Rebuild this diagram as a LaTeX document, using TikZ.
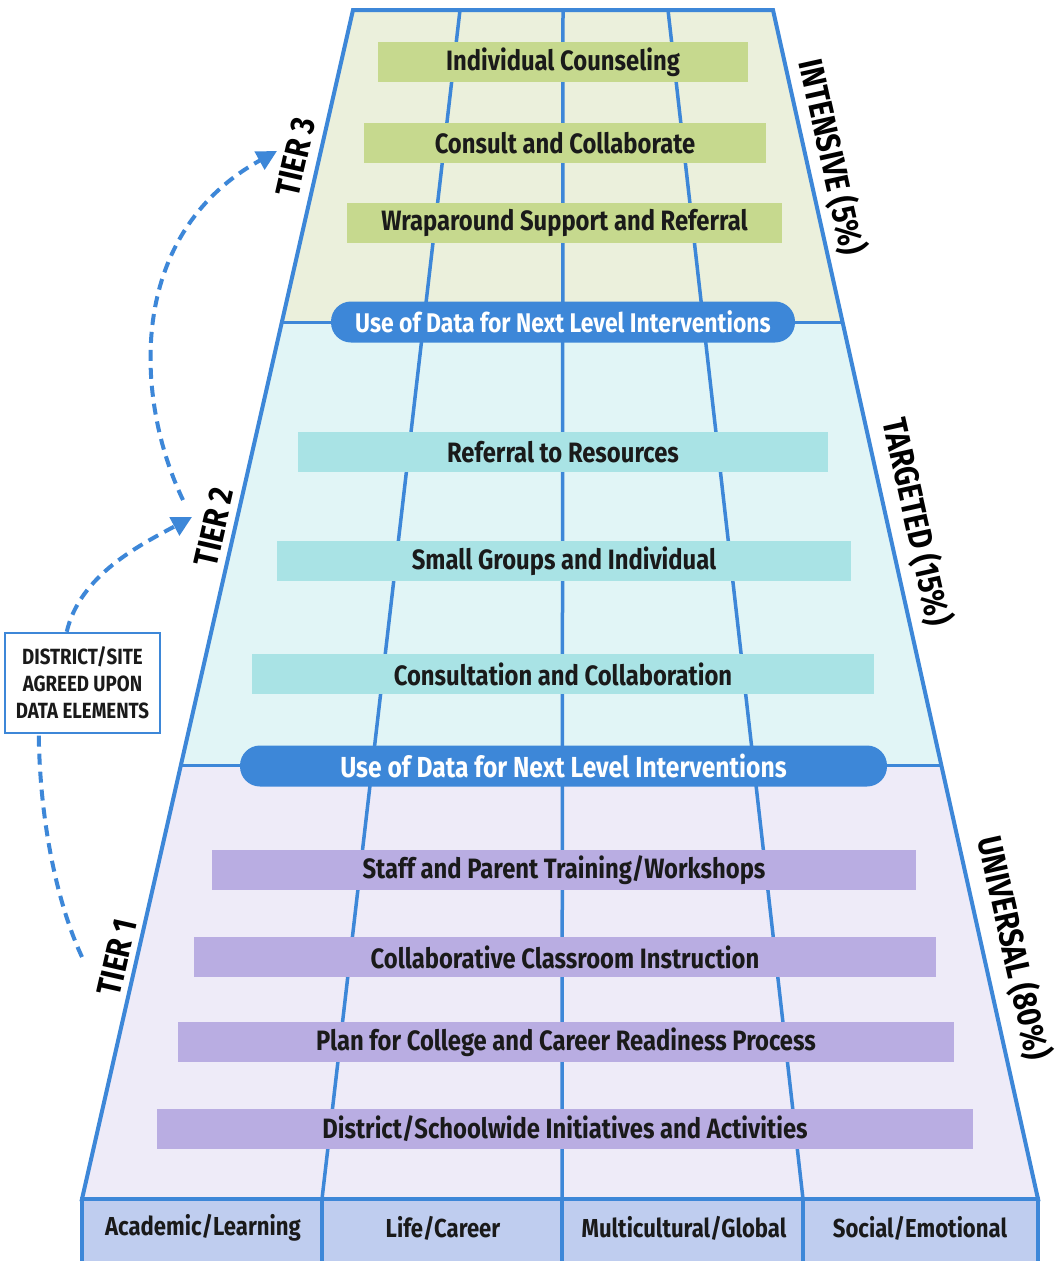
\documentclass[tikz,border=0pt]{standalone}
\usepackage{fontspec}
\setmainfont{Fira Sans}[FakeStretch=0.85]
\usetikzlibrary{calc,arrows.meta}
\definecolor{blu}{HTML}{3D87D8}
\definecolor{tthreebg}{HTML}{EBF0DC}
\definecolor{tthreebox}{HTML}{C6D98E}
\definecolor{ttwobg}{HTML}{E1F5F6}
\definecolor{ttwobox}{HTML}{A9E3E5}
\definecolor{tonebg}{HTML}{EEEBF8}
\definecolor{tonebox}{HTML}{B9ADE2}
\definecolor{basec}{HTML}{BFCDEF}
\definecolor{txt}{HTML}{1A1A1A}
\begin{document}
\begin{tikzpicture}[x=1pt,y=-1pt,
  ln/.style={draw=blu,line width=3.5pt},
  outl/.style={draw=blu,line width=4pt,line join=miter},
  boxbase/.style={rectangle,inner sep=0pt,minimum height=40pt,text=txt,
     font=\bfseries\fontsize{28}{28}\selectfont},
  gbox/.style={boxbase,fill=tthreebox},
  cbox/.style={boxbase,fill=ttwobox},
  pbox/.style={boxbase,fill=tonebox},
  pill/.style={rectangle,rounded corners=20pt,inner sep=0pt,minimum height=41pt,fill=blu,text=white,
     font=\bfseries\fontsize{27}{27}\selectfont},
  cell/.style={inner sep=0pt,text=txt,font=\bfseries\fontsize{26}{26}\selectfont},
  tier/.style={inner sep=0pt,text=black,font=\bfseries\fontsize{34}{34}\selectfont},
  dsh/.style={draw=blu,line width=4pt,dash pattern=on 11pt off 7pt},
  tip/.style={-{Triangle[length=20pt,width=20pt]}},
  databox/.style={draw=blu,line width=2.5pt,fill=white,align=center,minimum width=155pt,minimum height=100pt,
     inner sep=0pt,text=txt,font=\bfseries\fontsize{22}{27}\selectfont}
]
\useasboundingbox (0,0) rectangle (1055,1261);
\fill[white] (0,0) rectangle (1055,1261);
% geometry
\coordinate (TL) at (353,10);
\coordinate (TR) at (773,10);
\coordinate (BL) at (82,1199);
\coordinate (BR) at (1038,1199);
\coordinate (L3) at ($(TL)!0.2624!(BL)$);
\coordinate (R3) at ($(TR)!0.2624!(BR)$);
\coordinate (L2) at ($(TL)!0.6350!(BL)$);
\coordinate (R2) at ($(TR)!0.6350!(BR)$);
% backgrounds
\fill[tthreebg] (TL)--(TR)--(R3)--(L3)--cycle;
\fill[ttwobg] (L3)--(R3)--(R2)--(L2)--cycle;
\fill[tonebg] (L2)--(R2)--(BR)--(BL)--cycle;
% column lines
\draw[ln] (460,10)--(322,1199);
\draw[ln] (563,10)--(562,1199);
\draw[ln] (668,10)--(803,1199);
% tier boundaries
\draw[draw=blu,line width=3pt] (L3)--(R3);
\draw[draw=blu,line width=3pt] (L2)--(R2);
% outline
\draw[outl] (TL)--(TR)--(BR)--(BL)--cycle;
% base
\draw[outl,fill=basec] (BL) rectangle (1038,1275);
\draw[ln] (322,1199)--(322,1275);
\draw[ln] (562,1199)--(562,1275);
\draw[ln] (803,1199)--(803,1275);
\node[cell] (c1) at (203,1228) {Academic/Learning};
\node[cell] (c2) at (443,1228) {Life/Career};
\node[cell] (c3) at (684,1228) {Multicultural/Global};
\node[cell] (c4) at (920,1228) {Social/Emotional};
% tier 3
\node[gbox,minimum width=370pt] (b31) at (563,62) {Individual Counseling};
\node[gbox,minimum width=402pt] (b32) at (565,143) {Consult and Collaborate};
\node[gbox,minimum width=435pt] (b33) at (564.5,223) {Wraparound Support and Referral};
\node[pill,minimum width=464pt] (p1) at (563,322) {Use of Data for Next Level Interventions};
% tier 2
\node[cbox,minimum width=530pt] (b21) at (563,452) {Referral to Resources};
\node[cbox,minimum width=574pt] (b22) at (564,561) {Small Groups and Individual};
\node[cbox,minimum width=622pt] (b23) at (563,674) {Consultation and Collaboration};
\node[pill,minimum width=647pt,font=\bfseries\fontsize{29}{29}\selectfont] (p2) at (563.5,766) {Use of Data for Next Level Interventions};
% tier 1
\node[pbox,minimum width=704pt] (b11) at (564,870) {Staff and Parent Training/Workshops};
\node[pbox,minimum width=742pt] (b12) at (565,957) {Collaborative Classroom Instruction};
\node[pbox,minimum width=776pt] (b13) at (566,1042) {Plan for College and Career Readiness Process};
\node[pbox,minimum width=816pt] (b14) at (565,1129) {District/Schoolwide Initiatives and Activities};
% side labels
\node[tier,rotate=77.2] (tier3) at (296,157) {TIER 3};
\node[tier,rotate=77.2] (tier2) at (214,527) {TIER 2};
\node[tier,rotate=77.2] (tier1) at (117,957) {TIER 1};
\node[tier,rotate=-77.4] (int) at (832,157) {INTENSIVE (5\%)};
\node[tier,rotate=-77.4] (tar) at (917,522) {TARGETED (15\%)};
\node[tier,rotate=-77.4] (uni) at (1014,948) {UNIVERSAL (80\%)};
% data box
\node[databox] (data) at (82.5,683) {DISTRICT/SITE\\AGREED UPON\\DATA ELEMENTS};
% dashed connectors
\coordinate (s1) at (82,957);
\coordinate (a2) at (192,517);
\coordinate (s3) at (183,500);
\coordinate (a3) at (277,151);
\draw[dsh] (s1) .. controls (60,910) and (40,830) .. ($(data.south west)+(35,0)$);
\draw[dsh,tip] ($(data.north west)+(63,0)$) .. controls (80,575) and (140,545) .. (a2);
\draw[dsh,tip] (s3) .. controls (135,400) and (125,235) .. (a3);
\end{tikzpicture}
\end{document}
